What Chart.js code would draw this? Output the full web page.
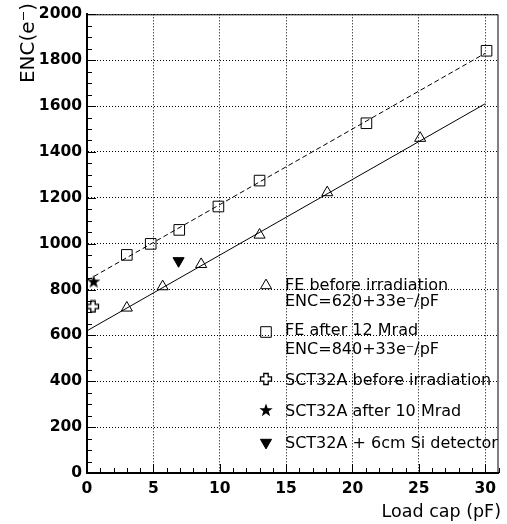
<!DOCTYPE html>
<html>
<head>
<meta charset="utf-8">
<script src="https://cdn.jsdelivr.net/npm/chart.js@4/dist/chart.umd.min.js"></script>
<style>
  html, body { margin: 0; padding: 0; background: #fff; }
  canvas { display: block; }
</style>
</head>
<body>
<canvas id="c" width="507" height="524"></canvas>
<script>
// values
const feBeforeX = [3, 5.7, 8.6, 13, 18.1, 25.1]
const feBeforeY = [720, 813, 910, 1038, 1223, 1460]
const feAfterX = [3, 4.8, 6.95, 9.9, 13, 21.05, 30.1]
const feAfterY = [951, 999, 1060, 1162, 1275, 1525, 1841]
const fitX = [0, 30]
const fitBeforeY = [620, 1610]
const fitAfterY = [840, 1830]
const sctBeforeX = [0.45]
const sctBeforeY = [726]
const sctAfterX = [0.5]
const sctAfterY = [835]
const sctDetX = [6.9]
const sctDetY = [925]

const legendLabels = [
  ['FE before irradiation', 'ENC=620+33e\u207B/pF'],
  ['FE after 12 Mrad', 'ENC=840+33e\u207B/pF'],
  ['SCT32A before irradiation'],
  ['SCT32A after 10 Mrad'],
  ['SCT32A + 6cm Si detector'],
]

const FONT = '"DejaVu Sans", sans-serif'

const pts = (xs, ys) => xs.map((x, i) => ({ x, y: ys[i] }))

// open plus marker
function crossMarker() {
  const c = document.createElement('canvas')
  c.width = 14; c.height = 14
  const g = c.getContext('2d')
  const m = 7, o = 5.5, w = 2.2
  g.beginPath()
  g.moveTo(m - w, m - o); g.lineTo(m + w, m - o); g.lineTo(m + w, m - w)
  g.lineTo(m + o, m - w); g.lineTo(m + o, m + w); g.lineTo(m + w, m + w)
  g.lineTo(m + w, m + o); g.lineTo(m - w, m + o); g.lineTo(m - w, m + w)
  g.lineTo(m - o, m + w); g.lineTo(m - o, m - w); g.lineTo(m - w, m - w)
  g.closePath()
  g.fillStyle = '#fff'
  g.fill()
  g.lineWidth = 1.3
  g.strokeStyle = '#000'
  g.stroke()
  return c
}

// filled star marker
function starMarker() {
  const c = document.createElement('canvas')
  c.width = 16; c.height = 16
  const g = c.getContext('2d')
  g.beginPath()
  for (let i = 0; i < 10; i++) {
    const r = i % 2 ? 2.8 : 7
    const a = -Math.PI / 2 + i * Math.PI / 5
    g.lineTo(8 + r * Math.cos(a), 8.5 + r * Math.sin(a))
  }
  g.closePath()
  g.fillStyle = '#000'
  g.fill()
  return c
}

const crossImg = crossMarker()
const starImg = starMarker()

const marker = {
  showLine: false,
  borderColor: '#000',
  borderWidth: 1,
}

const datasets = [
  {
    label: 'fit before',
    data: pts(fitX, fitBeforeY),
    showLine: true,
    borderColor: '#000',
    borderWidth: 1,
    pointRadius: 0,
  },
  {
    label: 'fit after',
    data: pts(fitX, fitAfterY),
    showLine: true,
    borderColor: '#000',
    borderWidth: 1,
    borderDash: [5, 3],
    pointRadius: 0,
  },
  {
    ...marker,
    label: 'FE before irradiation',
    data: pts(feBeforeX, feBeforeY),
    pointStyle: 'triangle',
    pointRadius: 6.4,
    backgroundColor: 'rgba(0,0,0,0)',
  },
  {
    ...marker,
    label: 'FE after 12 Mrad',
    data: pts(feAfterX, feAfterY),
    pointStyle: 'rect',
    pointRadius: 7.5,
    backgroundColor: 'rgba(0,0,0,0)',
  },
  {
    ...marker,
    label: 'SCT32A before irradiation',
    data: pts(sctBeforeX, sctBeforeY),
    pointStyle: crossImg,
  },
  {
    ...marker,
    label: 'SCT32A after 10 Mrad',
    data: pts(sctAfterX, sctAfterY),
    pointStyle: starImg,
  },
  {
    ...marker,
    label: 'SCT32A + 6cm Si detector',
    data: pts(sctDetX, sctDetY),
    pointStyle: 'triangle',
    rotation: 180,
    pointRadius: 6.4,
    backgroundColor: '#000',
  },
]

// ROOT-like frame: inward ticks, box, legend and axis titles
const rootFrame = {
  id: 'rootFrame',
  afterDraw(chart) {
    const { ctx, chartArea: a, scales: { x, y } } = chart
    ctx.save()
    ctx.strokeStyle = '#000'
    ctx.lineWidth = 1
    ctx.beginPath()
    for (let v = 0; v <= 2000; v += 50) {
      const py = Math.round(y.getPixelForValue(v)) + 0.5
      const len = v % 200 === 0 ? 9 : 5
      ctx.moveTo(a.left, py)
      ctx.lineTo(a.left + len, py)
    }
    for (let v = 0; v <= 31; v += 1) {
      const px = Math.round(x.getPixelForValue(v)) + 0.5
      const len = v % 5 === 0 ? 9 : 5
      ctx.moveTo(px, a.bottom)
      ctx.lineTo(px, a.bottom - len)
    }
    ctx.stroke()
    ctx.strokeRect(a.left + 0.5, a.top + 0.5, a.width - 1, a.height - 1)

    // legend
    const symX = 266
    const textX = 285
    const rows = [
      { ds: 2, sym: 285.5, base: [290, 306] },
      { ds: 3, sym: 332, base: [335, 354] },
      { ds: 4, sym: 379, base: [385] },
      { ds: 5, sym: 410, base: [416] },
      { ds: 6, sym: 442.5, base: [448] },
    ]
    ctx.font = '16px ' + FONT
    ctx.textAlign = 'left'
    ctx.textBaseline = 'alphabetic'
    rows.forEach((r, i) => {
      const d = chart.data.datasets[r.ds]
      ctx.fillStyle = d.backgroundColor || 'rgba(0,0,0,0)'
      ctx.strokeStyle = '#000'
      ctx.lineWidth = 1
      Chart.helpers.drawPoint(ctx, {
        pointStyle: d.pointStyle,
        radius: d.pointRadius || 3,
        rotation: d.rotation || 0,
        borderWidth: 1,
      }, symX, r.sym)
      ctx.fillStyle = '#000'
      legendLabels[i].forEach((t, j) => ctx.fillText(t, textX, r.base[j]))
    })

    // axis titles
    ctx.font = '17.5px ' + FONT
    ctx.textAlign = 'right'
    ctx.fillText('Load cap (pF)', 501, 517)
    ctx.font = '20px ' + FONT
    ctx.translate(34, 3)
    ctx.rotate(-Math.PI / 2)
    ctx.fillText('ENC(e\u207B)', 0, 0)
    ctx.restore()
  },
}

new Chart(document.getElementById('c'), {
  type: 'scatter',
  data: { datasets },
  plugins: [rootFrame],
  options: {
    responsive: false,
    animation: false,
    layout: { padding: { left: 0, right: 5, top: 14, bottom: 0 } },
    plugins: {
      legend: { display: false },
      tooltip: { enabled: false },
    },
    scales: {
      x: {
        type: 'linear',
        min: 0,
        max: 31,
        afterFit: (s) => { s.height = 51 },
        ticks: {
          stepSize: 5,
          includeBounds: false,
          padding: 7,
          color: '#000',
          font: { family: FONT, size: 15.5, weight: 'bold' },
          maxRotation: 0,
          callback: (v) => String(v),
        },
        grid: { color: '#000', lineWidth: 1, drawTicks: false },
        border: { display: true, color: '#000', width: 2, dash: [1, 2] },
      },
      y: {
        type: 'linear',
        min: 0,
        max: 2000,
        afterFit: (s) => { s.width = 87 },
        ticks: {
          stepSize: 200,
          padding: 5,
          color: '#000',
          font: { family: FONT, size: 15.5, weight: 'bold' },
          callback: (v) => String(v),
        },
        grid: { color: '#000', lineWidth: 1, drawTicks: false },
        border: { display: true, color: '#000', width: 2, dash: [1, 2] },
      },
    },
  },
})
</script>
</body>
</html>
